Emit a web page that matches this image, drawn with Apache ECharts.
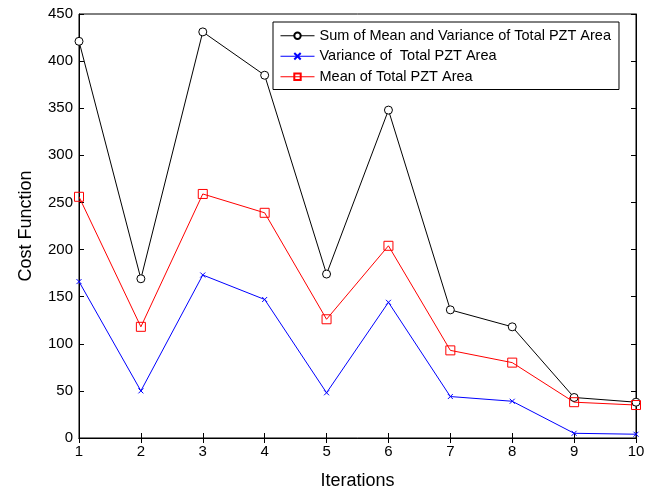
<!DOCTYPE html>
<html>
<head>
<meta charset="utf-8">
<script src="https://cdn.jsdelivr.net/npm/echarts@6/dist/echarts.min.js"></script>
<style>html,body{margin:0;padding:0;background:#fff}#c{width:656px;height:495px}</style>
</head>
<body>
<div id="c"></div>
<script>
const iterations = [1,2,3,4,5,6,7,8,9,10];
const sumValues = [421,169,431,385,174,348,136,118,43,38];
const varianceValues = [166,50,173,147,48,144,44,39,5,4];
const meanValues = [256,118,259,239,126,204,93,80,38,35];
const seriesNames = ['Sum of Mean and Variance of Total PZT Area','Variance of  Total PZT Area','Mean of Total PZT Area'];

const pair = (vals) => iterations.map((x,i)=>[x, vals[i]]);
const font = 'Liberation Sans, Arial, Helvetica, sans-serif';
const chart = echarts.init(document.getElementById('c'));
const crossPath = 'path://M0,0L10,10M10,0L0,10';
chart.setOption({
  animation:false,
  backgroundColor:'#fff',
  grid:{left:79,right:20,top:14,bottom:52,show:true,borderColor:'#000',borderWidth:1},
  legend:{
    orient:'vertical', left:273, top:22,
    backgroundColor:'#fff', borderColor:'#000', borderWidth:1,
    padding:[5,8,4,7],
    itemWidth:34, itemHeight:8, itemGap:3,
    lineStyle:{width:1},
    textStyle:{fontFamily:font,fontSize:14.5,color:'#000',lineHeight:17.5},
    data:seriesNames.map(n=>({name:n}))
  },
  xAxis:[{
    type:'value', min:1, max:10, interval:1,
    name:'Iterations', nameLocation:'middle', nameGap:34,
    nameTextStyle:{fontFamily:font,fontSize:18,color:'#000'},
    axisLine:{lineStyle:{color:'#000',width:1}},
    axisTick:{inside:true,length:5,lineStyle:{color:'#000'}},
    axisLabel:{fontFamily:font,fontSize:15,color:'#000',margin:6},
    splitLine:{show:false}
  },{
    type:'value', min:1, max:10, interval:1, position:'top',
    axisLine:{lineStyle:{color:'#000'}},
    axisTick:{inside:true,length:5,lineStyle:{color:'#000'}},
    axisLabel:{show:false}, splitLine:{show:false}
  }],
  yAxis:[{
    type:'value', min:0, max:450, interval:50,
    name:'Cost Function', nameLocation:'middle', nameGap:44,
    nameTextStyle:{fontFamily:font,fontSize:18,color:'#000'},
    axisLine:{show:true,lineStyle:{color:'#000',width:1}},
    axisTick:{show:true,inside:true,length:5,lineStyle:{color:'#000'}},
    axisLabel:{fontFamily:font,fontSize:15,color:'#000',margin:6},
    splitLine:{show:false}
  },{
    type:'value', min:0, max:450, interval:50, position:'right',
    axisLine:{show:true,lineStyle:{color:'#000'}},
    axisTick:{show:true,inside:true,length:5,lineStyle:{color:'#000'}},
    axisLabel:{show:false}, splitLine:{show:false}
  }],
  series:[
    {name:seriesNames[0], type:'line', data:pair(sumValues),
     symbol:'circle', symbolSize:8, showSymbol:true,
     lineStyle:{color:'#000',width:1},
     itemStyle:{color:'#fff',borderColor:'#000',borderWidth:1}},
    {name:seriesNames[1], type:'line', data:pair(varianceValues),
     symbol:crossPath, symbolSize:5,
     lineStyle:{color:'#0000ff',width:1},
     itemStyle:{color:'#0000ff',borderColor:'#0000ff',borderWidth:1}},
    {name:seriesNames[2], type:'line', data:pair(meanValues),
     symbol:'rect', symbolSize:9,
     lineStyle:{color:'#ff0000',width:1},
     itemStyle:{color:'rgba(255,255,255,0)',borderColor:'#ff0000',borderWidth:1}}
  ]
});
</script>
</body>
</html>
